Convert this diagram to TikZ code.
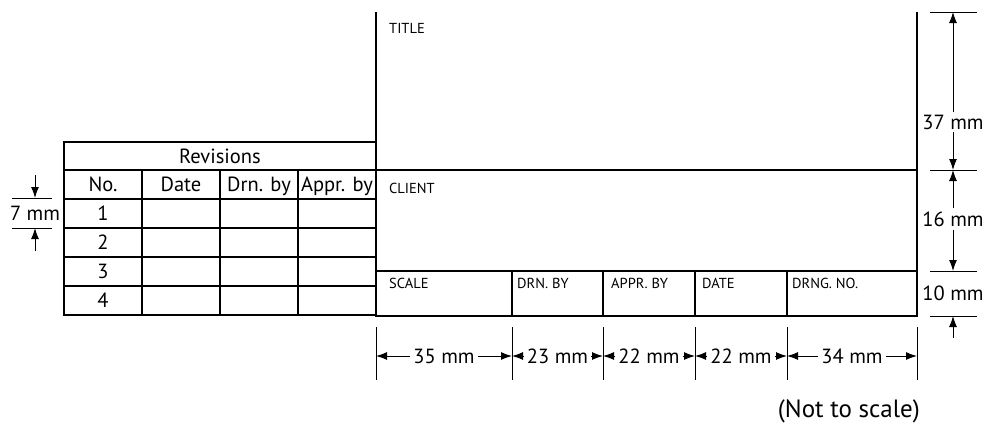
\documentclass[tikz,border=0pt]{standalone}
\usepackage{fontspec}
\setmainfont{PT Sans}
\usetikzlibrary{matrix,positioning,arrows.meta}

\tikzset{
  cell/.style={draw, line width=1.6pt, outer sep=0pt, inner sep=0pt},
  dimline/.style={line width=1pt},
  dimarrow/.style={line width=1pt, -{Latex[length=11pt,width=8pt]}},
  dimlabel/.style={inner sep=3pt, font=\fontsize{20.5}{23}\selectfont},
  tag/.style={anchor=north west, inner sep=0pt, font=\fontsize{14.5}{16}\selectfont},
}

\begin{document}
\begin{tikzpicture}[x=1pt, y=-1pt]
  \useasboundingbox (0,0) rectangle (985,423);

  % revisions table
  \matrix[matrix of nodes,
          nodes in empty cells,
          nodes={cell, minimum width=78pt, minimum height=29pt, anchor=center,
                 text height=15pt, text depth=1pt, font=\fontsize{20.5}{23}\selectfont},
          column sep=-1.6pt, row sep=-1.6pt,
          inner sep=0pt, outer sep=0pt,
          anchor=north west] (m) at (63.2,169.2) {
    No. & Date & Drn. by & Appr. by \\
    1 & & & \\
    2 & & & \\
    3 & & & \\
    4 & & & \\
  };
  \node[cell, minimum width=312pt, minimum height=28pt, anchor=south west,
        text height=15pt, text depth=1pt, font=\fontsize{20.5}{23}\selectfont]
        (rev) at (64,170) {Revisions};

  % title block
  \draw[line width=1.6pt] (376,12) -- (376,316) -- (917,316) -- (917,12);
  \draw[line width=1.6pt] (376,170) -- (917,170);
  \node[cell, minimum width=136pt, minimum height=45pt, anchor=north west] (scale) at (376,271) {};
  \node[cell, minimum width=91pt, minimum height=45pt, right=0pt of scale] (drn) {};
  \node[cell, minimum width=92pt, minimum height=45pt, right=0pt of drn] (appr) {};
  \node[cell, minimum width=92pt, minimum height=45pt, right=0pt of appr] (date) {};
  \node[cell, minimum width=130pt, minimum height=45pt, right=0pt of date] (drng) {};

  \node[tag] (title) at (389,23) {TITLE};
  \node[tag] (client) at (389,183) {CLIENT};
  \node[tag] (scale-t) at ([shift={(13,7)}]scale.north west) {SCALE};
  \node[tag] (drn-t) at ([shift={(5,7)}]drn.north west) {DRN. BY};
  \node[tag] (appr-t) at ([shift={(8,7)}]appr.north west) {APPR. BY};
  \node[tag] (date-t) at ([shift={(7,7)}]date.north west) {DATE};
  \node[tag] (drng-t) at ([shift={(5,7)}]drng.north west) {DRNG. NO.};

  % widths below
  \foreach \x in {376,512,603,695,787,917}
    \draw[dimline] (\x,327) -- (\x,380);
  \node[dimlabel] (d35) at (444,356) {35 mm};
  \node[dimlabel] (d23) at (557.5,356) {23 mm};
  \node[dimlabel] (d22a) at (649,356) {22 mm};
  \node[dimlabel] (d22b) at (741,356) {22 mm};
  \node[dimlabel] (d34) at (852,356) {34 mm};
  \draw[dimarrow] (d35.west) -- (376,356);
  \draw[dimarrow] (d35.east) -- (512,356);
  \draw[dimarrow] (d23.west) -- (512,356);
  \draw[dimarrow] (d23.east) -- (603,356);
  \draw[dimarrow] (d22a.west) -- (603,356);
  \draw[dimarrow] (d22a.east) -- (695,356);
  \draw[dimarrow] (d22b.west) -- (695,356);
  \draw[dimarrow] (d22b.east) -- (787,356);
  \draw[dimarrow] (d34.west) -- (787,356);
  \draw[dimarrow] (d34.east) -- (917,356);

  % heights on the right
  \foreach \y in {12,170,271,316}
    \draw[dimline] (930,\y) -- (977,\y);
  \node[dimlabel] (d37) at (953,122) {37 mm};
  \node[dimlabel] (d16) at (953,219) {16 mm};
  \node[dimlabel] (d10) at (953,293) {10 mm};
  \coordinate (d10b) at (953,338);
  \draw[dimarrow] (d37.north) -- (953,12);
  \draw[dimarrow] (d37.south) -- (953,170);
  \draw[dimarrow] (d16.north) -- (953,170);
  \draw[dimarrow] (d16.south) -- (953,271);
  \draw[dimarrow] (d10b) -- (953,316);

  % row height
  \foreach \y in {198,228}
    \draw[dimline] (12,\y) -- (52,\y);
  \node[dimlabel, inner sep=0pt] (d7) at (35,213) {7 mm};
  \coordinate (d7t) at (35,175);
  \coordinate (d7b) at (35,251);
  \draw[dimarrow] (d7t) -- (35,198);
  \draw[dimarrow] (d7b) -- (35,228);

  \node[dimlabel, anchor=base east, inner sep=0pt, font=\fontsize{25}{28}\selectfont]
        (nts) at (920,417) {(Not to scale)};
\end{tikzpicture}
\end{document}
